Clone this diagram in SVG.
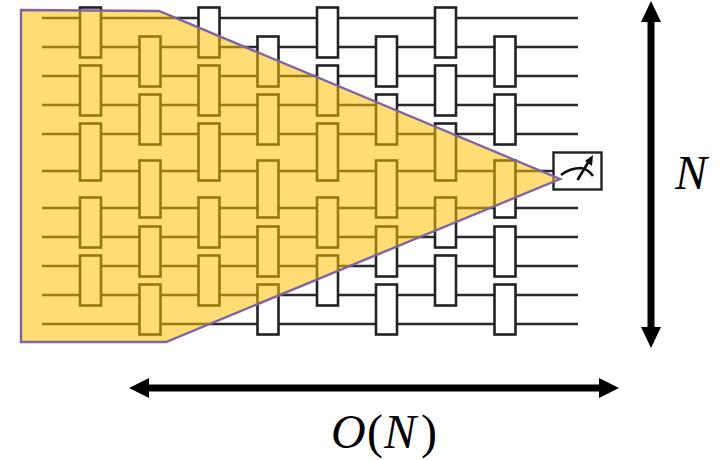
<svg xmlns="http://www.w3.org/2000/svg" width="722" height="460" viewBox="0 0 722 460">
<defs>
<style>
.w{stroke:#2a2a2a;stroke-width:2.6;fill:none}
.g{fill:#fff;stroke:#222;stroke-width:2.6}
.a{stroke:#000;stroke-width:7;fill:none}
.h{fill:#000;stroke:none}
.t{font-family:"Liberation Serif",serif;font-style:italic;font-size:48px;fill:#000}
.n{font-style:normal}
</style>
<filter id="b" x="-5%" y="-5%" width="110%" height="110%"><feGaussianBlur stdDeviation="0.55"/></filter>
<g id="c1">
<rect class="g" x="0" y="7.5" width="21" height="50"/>
<rect class="g" x="0" y="65.5" width="21" height="50"/>
<rect class="g" x="0" y="123.5" width="21" height="57"/>
<rect class="g" x="0" y="197.5" width="21" height="50"/>
<rect class="g" x="0" y="255.5" width="21" height="50"/>
</g>
<g id="c2">
<rect class="g" x="0" y="36.5" width="21" height="50"/>
<rect class="g" x="0" y="94.5" width="21" height="50"/>
<rect class="g" x="0" y="160.5" width="21" height="57"/>
<rect class="g" x="0" y="226.5" width="21" height="50"/>
<rect class="g" x="0" y="284.5" width="21" height="50"/>
</g>
</defs>
<rect width="722" height="460" fill="#fff"/>
<g id="circuit" filter="url(#b)">
<g id="connectors">
<path class="w" d="M42 18H578M42 47H578M42 76H578M42 105H578M42 134H578M42 171H554M42 208H578M42 237H578M42 266H578M42 295H578M42 324H578"/>
</g>
<g id="gates">
<use id="col1" href="#c1" x="80"/>
<use id="col2" href="#c2" x="139.5"/>
<use id="col3" href="#c1" x="198.5"/>
<use id="col4" href="#c2" x="257.5"/>
<use id="col5" href="#c1" x="317"/>
<use id="col6" href="#c2" x="376"/>
<use id="col7" href="#c1" x="435"/>
<use id="col8" href="#c2" x="494.5"/>
</g>
<g id="meter">
<rect x="553.5" y="152.5" width="48" height="37" fill="#fff" stroke="#222" stroke-width="2.4"/>
<path d="M561 175Q570 168 581 168Q588 169 593 176M577.500 180L589 161" fill="none" stroke="#111" stroke-width="2.6"/>
<path d="M593 155L592 166L585 161Z" fill="#111"/>
</g>
</g>
<g id="light-cone">
<polygon points="21,10 159,11 560,179 166,342 21,342" fill="#ffc000" fill-opacity="0.54" stroke="#8064a2" stroke-width="2.4"/>
</g>
<g id="arrow-n">
<path class="a" d="M651 20V329"/>
<path class="h" d="M651 1L661 22H641ZM651 348L641 327H661Z"/>
</g>
<g id="arrow-o">
<path class="a" d="M148 388H600"/>
<path class="h" d="M129 388L149 378V398ZM619 388L599 398V378Z"/>
</g>
<text id="label-n" class="t" x="675" y="189">N</text>
<text id="label-o" class="t" y="448" x="331 367 384 421">O<tspan class="n">(</tspan>N<tspan class="n">)</tspan></text>
</svg>
